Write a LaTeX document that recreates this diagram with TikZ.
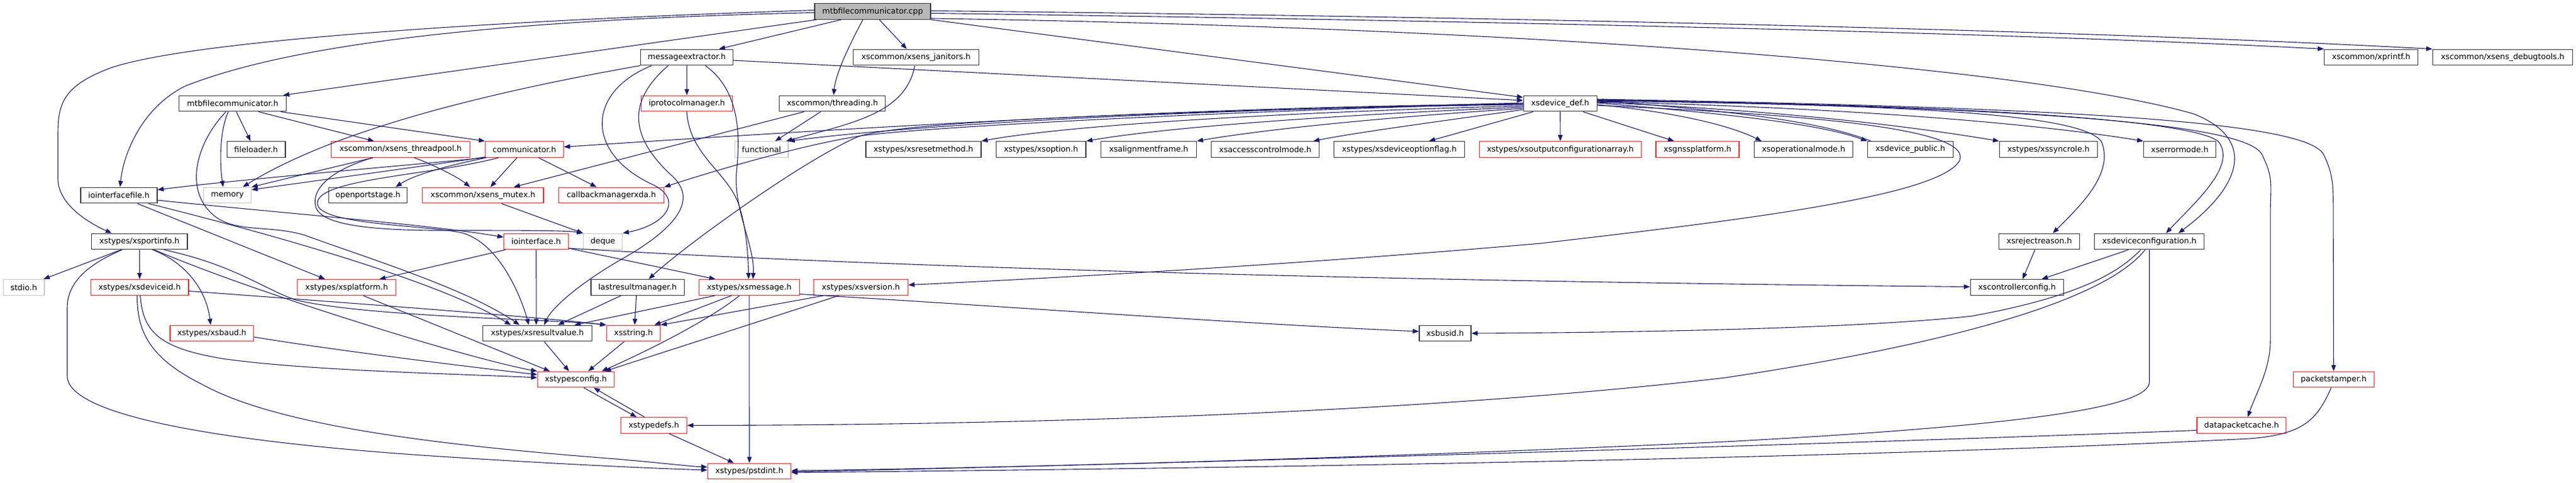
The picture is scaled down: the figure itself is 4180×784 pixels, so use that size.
\documentclass[tikz,border=0pt]{standalone}
\usepackage{fontspec}
\setmainfont{DejaVu Sans}
\usetikzlibrary{arrows.meta}
\definecolor{edgec}{HTML}{191970}
\definecolor{redb}{HTML}{FF2020}
\begin{document}
\begin{tikzpicture}[x=1pt,y=-1pt,
 nd/.style={draw=black!78, line width=1.3pt, fill=white, minimum height=25.6pt, inner sep=0pt, font=\fontsize{12.75}{15}\selectfont, text=black},
 rd/.style={nd, draw=redb},
 gd/.style={nd, draw=black!22},
 rt/.style={nd, fill=black!28},
 e/.style={draw=edgec, line width=1.1pt, -{Triangle[length=10pt,width=7.5pt]}}]
\useasboundingbox (0,0) rectangle (4180,784);
% row 1
\node[rt, minimum width=188pt] (cpp) at (1416,18.5) {mtbfilecommunicator.cpp};
% row 2
\node[nd, minimum width=150pt] (msgex) at (1114.5,93) {messageextractor.h};
\node[nd, minimum width=204pt] (jan) at (1486.4,93) {xscommon/xsens\_janitors.h};
\node[nd, minimum width=152pt] (xpf) at (3847.6,93) {xscommon/xprintf.h};
\node[nd, minimum width=227pt] (dbg) at (4061,93) {xscommon/xsens\_debugtools.h};
% row 3
\node[nd, minimum width=174pt] (mfh) at (377.5,168) {mtbfilecommunicator.h};
\node[rd, minimum width=148pt] (iproto) at (1114.5,168) {iprotocolmanager.h};
\node[nd, minimum width=172pt] (thr) at (1350.7,168) {xscommon/threading.h};
\node[nd, minimum width=119pt] (dev) at (2531.7,168) {xsdevice\_def.h};
% row 4
\node[nd, minimum width=94.7pt] (fl) at (415.6,242.5) {fileloader.h};
\node[rd, minimum width=224.5pt] (tp) at (650,242.5) {xscommon/xsens\_threadpool.h};
\node[rd, minimum width=126.8pt] (com) at (850.9,242.5) {communicator.h};
\node[gd, minimum width=86.6pt] (fun) at (1235.7,242.5) {functional};
\node[nd, minimum width=187pt] (rm) at (1498.4,242.5) {xstypes/xsresetmethod.h};
\node[nd, minimum width=145.5pt] (opt) at (1689.3,242.5) {xstypes/xsoption.h};
\node[nd, minimum width=155pt] (af) at (1864,242.5) {xsalignmentframe.h};
\node[nd, minimum width=175pt] (acm) at (2053,242.5) {xsaccesscontrolmode.h};
\node[nd, minimum width=212pt] (dof) at (2270.7,242.5) {xstypes/xsdeviceoptionflag.h};
\node[rd, minimum width=263pt] (oca) at (2531.9,242.5) {xstypes/xsoutputconfigurationarray.h};
\node[rd, minimum width=135pt] (gnss) at (2754.5,242.5) {xsgnssplatform.h};
\node[nd, minimum width=160pt] (opm) at (2926.5,242.5) {xsoperationalmode.h};
\node[nd, minimum width=138.8pt] (dpub) at (3099.8,242.5) {xsdevice\_public.h};
\node[nd, minimum width=159pt] (sync) at (3324,242.5) {xstypes/xssyncrole.h};
\node[nd, minimum width=117pt] (errm) at (3537,242.5) {xserrormode.h};
% row 5
\node[nd, minimum width=124pt] (iof) at (192.9,317) {iointerfacefile.h};
\node[gd, minimum width=77pt] (mem) at (369,317) {memory};
\node[nd, minimum width=127pt] (ops) at (597,317) {openportstage.h};
\node[rd, minimum width=196.8pt] (mtx) at (783.7,317) {xscommon/xsens\_mutex.h};
\node[rd, minimum width=170.5pt] (cbm) at (992,317) {callbackmanagerxda.h};
% row 6
\node[nd, minimum width=155.4pt] (pinfo) at (226.3,392) {xstypes/xsportinfo.h};
\node[rd, minimum width=104.5pt] (ioi) at (870,392) {iointerface.h};
\node[gd, minimum width=63pt] (dq) at (978.3,392) {deque};
\node[nd, minimum width=131pt] (rej) at (3309,392) {xsrejectreason.h};
\node[nd, minimum width=178pt] (dcfg) at (3487.7,392) {xsdeviceconfiguration.h};
% row 7
\node[gd, minimum width=66.5pt] (stdio) at (38.6,466.5) {stdio.h};
\node[rd, minimum width=158.5pt] (did) at (226.6,466.5) {xstypes/xsdeviceid.h};
\node[rd, minimum width=160pt] (plat) at (562.5,466.5) {xstypes/xsplatform.h};
\node[nd, minimum width=151.4pt] (lrm) at (1034.6,466.5) {lastresultmanager.h};
\node[rd, minimum width=163pt] (msg) at (1215.8,466.5) {xstypes/xsmessage.h};
\node[rd, minimum width=152.7pt] (ver) at (1396.9,466.5) {xstypes/xsversion.h};
\node[nd, minimum width=151.4pt] (ccfg) at (3273,466.5) {xscontrollerconfig.h};
% row 8
\node[rd, minimum width=135.7pt] (baud) at (343.8,541) {xstypes/xsbaud.h};
\node[nd, minimum width=177.2pt] (rv) at (872.1,541) {xstypes/xsresultvalue.h};
\node[rd, minimum width=87pt] (str) at (1027.9,541) {xsstring.h};
\node[nd, minimum width=84pt] (bus) at (2345,541) {xsbusid.h};
% row 9
\node[rd, minimum width=124pt] (tcfg) at (934.4,616) {xstypesconfig.h};
\node[rd, minimum width=131pt] (pst) at (3786.7,616) {packetstamper.h};
% row 10
\node[rd, minimum width=107pt] (tdef) at (1061,690.5) {xstypedefs.h};
\node[rd, minimum width=144.5pt] (dpc) at (3637.3,690.5) {datapacketcache.h};
% row 11
\node[rd, minimum width=135pt] (pstd) at (1216,765) {xstypes/pstdint.h};

% ---- edges from the .cpp
\draw[e] ([yshift=2pt]cpp.west) .. controls (900,30) and (330,60) .. (180,110) .. controls (100,140) and (94,170) .. (94,220) -- (94,290) .. controls (94,330) and (140,360) .. ([xshift=-45pt]pinfo.north);
\draw[e] ([yshift=-2pt]cpp.west) .. controls (900,30) and (500,60) .. (300,140) .. controls (230,175) and (200,250) .. ([xshift=2pt]iof.north);
\draw[e] ([xshift=-91pt]cpp.south) -- ([xshift=82pt]mfh.north);
\draw[e] ([xshift=-51pt]cpp.south) -- ([xshift=52pt]msgex.north);
\draw[e] ([xshift=-16pt]cpp.south) .. controls (1375,80) and (1356,120) .. ([xshift=2pt]thr.north);
\draw[e] ([xshift=11pt]cpp.south) -- ([xshift=-15pt]jan.north);
\draw[e] (cpp.south east) -- ([yshift=10pt]dev.west);
\draw[e] ([yshift=1pt]cpp.east) .. controls (2500,28) and (3400,50) .. (dbg.north west);
\draw[e] ([yshift=-3pt]cpp.east) .. controls (2500,35) and (3300,55) .. (xpf.north west);
\draw[e] ([yshift=2pt]cpp.south east) .. controls (2500,45) and (3300,110) .. (3560,185) .. controls (3660,225) and (3640,300) .. ([xshift=47pt]dcfg.north);
% ---- messageextractor
\draw[e] ([yshift=-5pt]msgex.east) -- ([yshift=5pt]dev.west);
\draw[e] (msgex.south) -- (iproto.north);
\draw[e] (msgex.south west) .. controls (850,140) and (560,200) .. ([xshift=25pt]mem.north);
\draw[e] ([xshift=-57pt]msgex.south) .. controls (950,150) and (950,250) .. (1060,300) .. controls (1110,325) and (1080,365) .. (dq.north east);
\draw[e] ([xshift=-30pt]msgex.south) .. controls (1010,170) and (1030,230) .. (1090,285) .. controls (1140,330) and (1080,380) .. (1010,420) .. controls (940,460) and (895,500) .. ([xshift=11pt]rv.north);
\draw[e] ([xshift=30pt]msgex.south) .. controls (1205,150) and (1200,230) .. (1195,280) .. controls (1190,340) and (1225,400) .. ([xshift=6pt]msg.north);
\draw[e] (iproto.south) .. controls (1118,250) and (1180,280) .. (1198,330) .. controls (1212,370) and (1214,420) .. ([xshift=-1pt]msg.north);
% ---- threading / janitors
\draw[e] ([xshift=-46pt]thr.south) -- ([xshift=50pt]mtx.north);
\draw[e] ([xshift=-19pt]thr.south) -- ([xshift=22pt]fun.north);
\draw[e] ([xshift=-2pt]jan.south) .. controls (1470,185) and (1380,200) .. ([xshift=-4pt]fun.north east);
% ---- mtbfilecommunicator.h
\draw[e] ([xshift=6pt]mfh.south) -- ([xshift=-9pt]fl.north);
\draw[e] ([xshift=-7pt]mfh.south) .. controls (355,215) and (357,270) .. ([xshift=-7pt]mem.north);
\draw[e] ([xshift=42pt]mfh.south) -- ([xshift=-43pt]tp.north);
\draw[e] ([xshift=78pt]mfh.south) -- (com.north west);
\draw[e] ([xshift=-11pt]mfh.south) .. controls (320,230) and (295,310) .. (350,352) .. controls (385,378) and (440,365) .. (495,382) .. controls (600,420) and (760,470) .. ([xshift=-29pt]rv.north);
% ---- iointerfacefile
\draw[e] ([yshift=-8pt]iof.east) .. controls (450,345) and (700,365) .. ([yshift=7pt]ioi.west);
\draw[e] ([xshift=30pt]iof.south) -- ([xshift=-35pt]plat.north);
\draw[e] ([xshift=48pt]iof.south) .. controls (400,370) and (700,450) .. ([xshift=-43pt]rv.north);
% ---- xsportinfo
\draw[e] ([xshift=-30pt]pinfo.south) -- ([xshift=32pt]stdio.north);
\draw[e] (pinfo.south) -- (did.north);
\draw[e] ([xshift=21pt]pinfo.south) .. controls (300,425) and (335,470) .. ([xshift=-2pt]baud.north);
\draw[e] ([xshift=-28pt]pinfo.south) .. controls (140,430) and (109,460) .. (109,500) -- (109,610) .. controls (109,680) and (400,720) .. (700,740) .. controls (900,753) and (1050,760) .. ([yshift=2pt]pstd.west);
\draw[e] ([xshift=24pt]pinfo.south) .. controls (400,470) and (750,580) .. (tcfg.north west);
\draw[e] ([xshift=40pt]pinfo.south) .. controls (380,430) and (430,470) .. (480,487) .. controls (600,515) and (900,518) .. (str.north west);
% ---- xsdeviceid, xsbaud, xsplatform
\draw[e] ([yshift=-6pt]did.east) .. controls (500,487) and (850,512) .. (str.north west);
\draw[e] ([xshift=1pt]did.south) .. controls (232,540) and (260,565) .. (360,582) .. controls (500,602) and (750,607) .. ([yshift=3pt]tcfg.west);
\draw[e] ([xshift=-4pt]did.south) .. controls (222,545) and (250,585) .. (330,625) .. controls (450,690) and (700,722) .. (1000,745) .. controls (1080,752) and (1120,757) .. ([yshift=7pt]pstd.west);
\draw[e] ([yshift=-6pt]baud.east) .. controls (550,570) and (800,600) .. ([yshift=8pt]tcfg.west);
\draw[e] ([xshift=27pt]plat.south) -- ([xshift=-42pt]tcfg.north);
% ---- iointerface
\draw[e] ([xshift=-50pt]ioi.south) -- ([xshift=53pt]plat.north);
\draw[e] (ioi.south) -- ([xshift=-2pt]rv.north);
\draw[e] ([yshift=-11pt]ioi.east) -- ([xshift=-55pt]msg.north);
\draw[e] ([yshift=-11pt]ioi.east) .. controls (1400,432) and (2200,456) .. ([yshift=1pt]ccfg.west);
% ---- communicator
\draw[e] (com.south west) .. controls (700,265) and (400,290) .. ([yshift=9pt]iof.east);
\draw[e] ([yshift=1pt]com.south west) .. controls (700,268) and (500,295) .. ([yshift=9pt]mem.east);
\draw[e] ([xshift=2pt]com.south west) .. controls (720,270) and (670,285) .. ([xshift=45pt]ops.north);
\draw[e] ([xshift=-12pt]com.south) -- ([xshift=12pt]mtx.north);
\draw[e] ([xshift=23pt]com.south) -- ([xshift=-24pt]cbm.north);
\draw[e] ([xshift=-42pt]com.south) .. controls (700,285) and (515,290) .. (515,330) .. controls (515,365) and (690,365) .. (750,378) .. controls (810,395) and (845,480) .. ([xshift=-14pt]rv.north);
% ---- threadpool, mutex
\draw[e] ([xshift=-45pt]tp.south) -- (mem.north east);
\draw[e] ([xshift=-45pt]tp.south) .. controls (540,275) and (505,305) .. (512,335) .. controls (520,365) and (600,373) .. (700,374) .. controls (850,374) and (920,374) .. (dq.north west);
\draw[e] ([xshift=22pt]tp.south) .. controls (690,262) and (740,285) .. ([xshift=-21pt]mtx.north);
\draw[e] ([xshift=30pt]mtx.south) -- (dq.north west);
% ---- row 7 headers
\draw[e] ([xshift=-27pt]lrm.south) -- ([xshift=33pt]rv.north);
\draw[e] ([xshift=-2pt]lrm.south) -- ([xshift=2pt]str.north);
\draw[e] ([xshift=-56pt]msg.south) -- ([xshift=60pt]rv.north);
\draw[e] ([xshift=-29pt]msg.south) -- ([xshift=34pt]str.north);
\draw[e] ([xshift=-16pt]msg.south) .. controls (1150,520) and (1050,570) .. ([xshift=42pt]tcfg.north);
\draw[e] (msg.south) -- (pstd.north);
\draw[e] ([yshift=-11pt]msg.east) .. controls (1600,495) and (2000,525) .. ([yshift=3pt]bus.west);
\draw[e] ([xshift=-61pt]ver.south) -- (str.north east);
\draw[e] ([xshift=-36pt]ver.south) -- ([xshift=47pt]tcfg.north);
\draw[e] ([xshift=11pt]rv.south) -- ([xshift=-11pt]tcfg.north);
\draw[e] ([xshift=-15pt]str.south) -- ([xshift=20pt]tcfg.north);
\draw[e] ([xshift=13pt]tcfg.south) -- ([xshift=-28pt]tdef.north);
\draw[e] ([xshift=-15pt]tdef.north) -- ([xshift=29pt]tcfg.south);
\draw[e] ([xshift=25pt]tdef.south) -- ([xshift=-25pt]pstd.north);
% ---- xsdevice_def
\draw[e] ([xshift=-44pt]dev.south) -- ([xshift=48pt]dof.north);
\draw[e] (dev.south) -- (oca.north);
\draw[e] ([xshift=37pt]dev.south) -- ([xshift=-38pt]gnss.north);
\draw[e] ([yshift=-10pt]dev.west) .. controls (2350,195) and (2200,215) .. ([xshift=78pt]acm.north);
\draw[e] ([yshift=-8pt]dev.west) .. controls (2250,190) and (2050,210) .. (af.north east);
\draw[e] ([yshift=-6pt]dev.west) .. controls (2200,185) and (1900,205) .. (opt.north east);
\draw[e] ([yshift=-4pt]dev.west) .. controls (2150,180) and (1750,200) .. (rm.north east);
\draw[e] ([yshift=-2pt]dev.west) .. controls (2000,175) and (1500,200) .. (fun.north east);
\draw[e] ([yshift=-1pt]dev.west) .. controls (2000,172) and (1500,200) .. ([yshift=4pt]com.east);
\draw[e] (dev.west) .. controls (2000,180) and (1520,205) .. (1400,220) .. controls (1300,235) and (1150,280) .. (cbm.north east);
\draw[e] ([yshift=1pt]dev.west) .. controls (1900,182) and (1470,195) .. (1392,222) .. controls (1300,262) and (1110,400) .. ([xshift=18pt]lrm.north);
\draw[e] ([yshift=-3pt]dev.east) .. controls (2900,185) and (3200,205) .. (3180,260) .. controls (3150,320) and (2800,360) .. (2500,395) .. controls (2100,430) and (1700,452) .. ([yshift=4pt]ver.east);
\draw[e] ([yshift=-2pt]dev.east) .. controls (2700,180) and (2800,200) .. ([xshift=-68pt]opm.north);
\draw[e] ([yshift=1pt]dev.east) .. controls (2800,185) and (2950,200) .. (dpub.north west);
\draw[e] ([xshift=6pt]dpub.north west) .. controls (2950,195) and (2800,180) .. ([yshift=5pt]dev.east);
\draw[e] ([yshift=2pt]dev.east) .. controls (2900,180) and (3100,205) .. (sync.north west);
\draw[e] ([yshift=3pt]dev.east) .. controls (3000,175) and (3300,200) .. (errm.north west);
\draw[e] ([yshift=4pt]dev.east) .. controls (3100,170) and (3380,185) .. (3410,230) .. controls (3430,280) and (3380,330) .. ([xshift=22pt]rej.north);
\draw[e] ([yshift=5pt]dev.east) .. controls (3200,170) and (3560,195) .. (3600,230) .. controls (3630,270) and (3560,330) .. ([xshift=27pt]dcfg.north);
\draw[e] ([yshift=6pt]dev.east) .. controls (3300,175) and (3640,200) .. (3670,250) .. controls (3690,290) and (3684,300) .. (3684,350) -- (3684,553) .. controls (3684,600) and (3660,640) .. ([xshift=10pt]dpc.north);
\draw[e] ([yshift=7pt]dev.east) .. controls (3400,175) and (3740,200) .. (3770,250) .. controls (3785,280) and (3786,300) .. (3786,330) -- (pst.north);
% ---- xsdeviceconfiguration etc.
\draw[e] ([xshift=-34pt]dcfg.south) -- ([xshift=40pt]ccfg.north);
\draw[e] ([xshift=-7pt]rej.south) -- ([xshift=9pt]ccfg.north);
\draw[e] ([xshift=-14pt]dcfg.south) .. controls (3440,440) and (3380,480) .. (3200,513) .. controls (3000,535) and (2600,540) .. (bus.east);
\draw[e] ([xshift=-7pt]dcfg.south) .. controls (3430,470) and (3250,545) .. (2800,613) .. controls (2400,660) and (1800,690) .. (tdef.east);
\draw[e] (dcfg.south) -- (3487.7,620) .. controls (3487.7,660) and (3300,690) .. (2800,717) .. controls (2200,745) and (1600,760) .. ([yshift=1pt]pstd.east);
\draw[e] ([yshift=-8pt]dpc.west) .. controls (3000,720) and (2000,750) .. ([yshift=-1pt]pstd.east);
\draw[e] ([xshift=-4pt]pst.south) .. controls (3760,680) and (3740,705) .. (3650,712) .. controls (3000,745) and (2000,760) .. ([yshift=-2pt]pstd.east);
\end{tikzpicture}
\end{document}
